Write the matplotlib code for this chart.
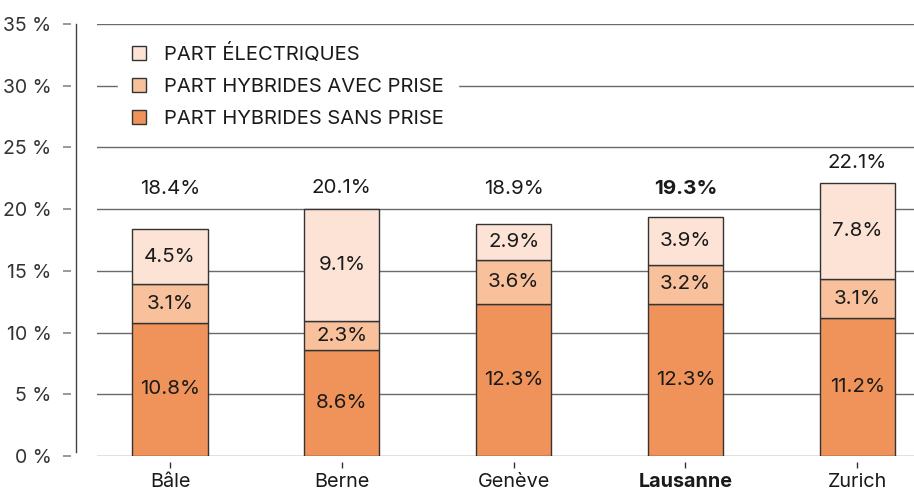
import matplotlib
matplotlib.use("Agg")
import matplotlib.pyplot as plt
from matplotlib.patches import Patch
from matplotlib.transforms import blended_transform_factory

plt.rcParams['font.family'] = ['Inter', 'DejaVu Sans']

# Share of new registrations by drive type, per city (%)
cities = ["Bâle", "Berne", "Genève", "Lausanne", "Zurich"]
hybrid_no_plug = [10.8, 8.6, 12.3, 12.3, 11.2]
hybrid_plug = [3.1, 2.3, 3.6, 3.2, 3.1]
electric = [4.5, 9.1, 2.9, 3.9, 7.8]
totals = [18.4, 20.1, 18.9, 19.3, 22.1]
highlight = "Lausanne"

series_labels = ["PART ÉLECTRIQUES", "PART HYBRIDES AVEC PRISE", "PART HYBRIDES SANS PRISE"]
yticks = [0, 5, 10, 15, 20, 25, 30, 35]

c_dark = "#F0935A"
c_mid = "#F8C19C"
c_light = "#FDE3D5"
edge = "#333333"
grid_c = "#6a6a6a"
text_c = "#1a1a1a"

W, H = 914, 491
fig = plt.figure(figsize=(W / 100, H / 100), dpi=100)
ax = fig.add_axes([97 / W, 35 / H, 817 / W, 432 / H])

x = list(range(len(cities)))
bw = 0.437
seg_fs = 14.8

bottoms = [0.0] * len(cities)
for vals, col in [(hybrid_no_plug, c_dark), (hybrid_plug, c_mid), (electric, c_light)]:
    ax.bar(x, vals, bw, bottom=bottoms, color=col, edgecolor=edge, linewidth=1.0, zorder=3)
    for xi, v, b in zip(x, vals, bottoms):
        ax.text(xi, b + v / 2, f"{v:.1f}%", ha="center", va="center",
                fontsize=seg_fs, color=text_c, zorder=4)
    bottoms = [b + v for b, v in zip(bottoms, vals)]

for xi, t, name in zip(x, totals, cities):
    ax.text(xi, max(t, 20.0) + 1.65, f"{t:.1f}%", ha="center", va="center",
            fontsize=seg_fs, color=text_c,
            fontweight="bold" if name == highlight else "normal", zorder=4)

ax.set_xlim(-0.425, 4.33)
ax.set_ylim(0, 35)

for s in ax.spines.values():
    s.set_visible(False)
ax.spines["left"].set_position(("outward", 19))
ax.spines["bottom"].set_position(("outward", 4.3))

ax.set_yticks(yticks)
ax.set_yticklabels([f"{t} %" for t in yticks], fontsize=14, color="#333333")
ax.set_xticks(x)
ax.set_xticklabels(cities, fontsize=14.3, color=text_c)
for lbl in ax.get_xticklabels():
    if lbl.get_text() == highlight:
        lbl.set_fontweight("bold")

ax.grid(axis="y", color=grid_c, linewidth=1.0, zorder=0)
ax.set_axisbelow(True)
ax.tick_params(axis="y", length=5.8, width=1.2, color="#888888", pad=8)
ax.tick_params(axis="x", length=4, width=1.0, color="#333333", pad=4)

# vertical rule left of the plotting area
trans = blended_transform_factory(ax.transAxes, ax.transData)
ax.plot([-21 / 817, -21 / 817], [0.3, 35], transform=trans, color="#444444",
        linewidth=1.0, clip_on=False)

handles = [Patch(facecolor=c, edgecolor=edge, linewidth=1.0) for c in (c_light, c_mid, c_dark)]
leg = ax.legend(handles, series_labels, loc="upper left",
                bbox_to_anchor=(118 / W, (H - 30) / H), bbox_transform=fig.transFigure,
                fontsize=14.5, frameon=True, fancybox=False, framealpha=1.0,
                edgecolor="white", facecolor="white", handlelength=0.7, handleheight=0.7,
                handletextpad=0.9, labelspacing=0.68, borderpad=0.7, borderaxespad=0)
for t in leg.get_texts():
    t.set_color(text_c)
leg.set_zorder(2)

fig.savefig("out.png", dpi=100)
